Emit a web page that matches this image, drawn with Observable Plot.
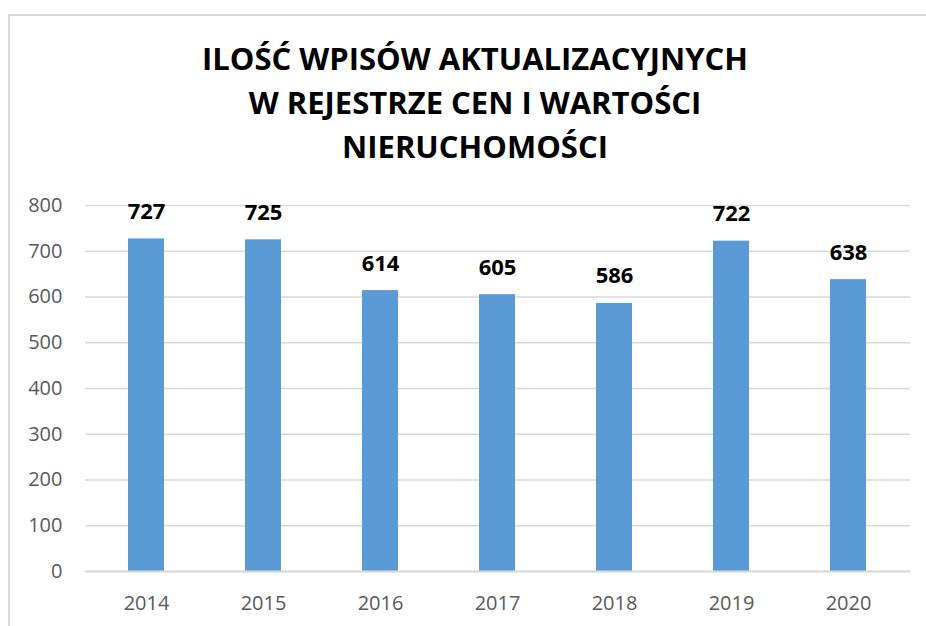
<!DOCTYPE html>
<html>
<head>
<meta charset="utf-8">
<script src="https://cdn.jsdelivr.net/npm/d3@7"></script>
<script src="https://cdn.jsdelivr.net/npm/@observablehq/plot@0.6"></script>
<style>
  html, body { margin: 0; padding: 0; background: #fff; overflow: hidden; }
  #wrap { position: relative; width: 926px; height: 626px; }
  #frame { position: absolute; left: 8px; top: 14px; width: 1000px; height: 700px; border: 2px solid #d9d9d9; box-sizing: border-box; }
  #title { position: absolute; left: 0; top: 0; width: 950px; height: 180px; text-align: center;
           font-family: "Open Sans", sans-serif; font-weight: 700; font-size: 31px; line-height: 44px; color: #000;
           padding-top: 36px; box-sizing: border-box; }
  #chart { position: absolute; left: 0; top: 180px; }
</style>
</head>
<body>
<div id="wrap">
  <div id="frame"></div>
  <div id="title">ILOŚĆ WPISÓW AKTUALIZACYJNYCH<br>W REJESTRZE CEN I WARTOŚCI<br>NIERUCHOMOŚCI</div>
  <div id="chart"></div>
</div>
<script>
const years = ["2014", "2015", "2016", "2017", "2018", "2019", "2020"];
const counts = [727, 725, 614, 605, 586, 722, 638];
const yTicks = [0, 100, 200, 300, 400, 500, 600, 700, 800];

const data = years.map((y, i) => ({year: y, value: counts[i]}));

const plot = Plot.plot({
  width: 926,
  height: 446,
  marginTop: 25,
  marginBottom: 55,
  marginLeft: 85,
  marginRight: 16,
  style: {fontFamily: "'Open Sans', sans-serif", fontSize: "20px", color: "#595959", background: "transparent"},
  x: {domain: years, paddingInner: 0.69, paddingOuter: 0.345, label: null},
  y: {domain: [0, 800], label: null},
  marks: [
    Plot.gridY(yTicks, {stroke: "#d9d9d9", strokeOpacity: 1, strokeWidth: 1.5}),
    Plot.barY(data, {x: "year", y: "value", fill: "#5B9BD5"}),
    Plot.ruleY([0], {stroke: "#d9d9d9", strokeWidth: 2}),
    Plot.text(data, {x: "year", y: "value", text: d => String(d.value), lineAnchor: "bottom", dy: -20,
      fontWeight: 700, fontSize: 22, fill: "#000"}),
    Plot.axisY(yTicks, {tickSize: 0, tickPadding: 23, fill: "#595959", fontSize: 20, label: null}),
    Plot.axisX(years, {tickSize: 0, tickPadding: 24, fill: "#595959", fontSize: 20, label: null})
  ]
});
document.getElementById("chart").appendChild(plot);
</script>
</body>
</html>
